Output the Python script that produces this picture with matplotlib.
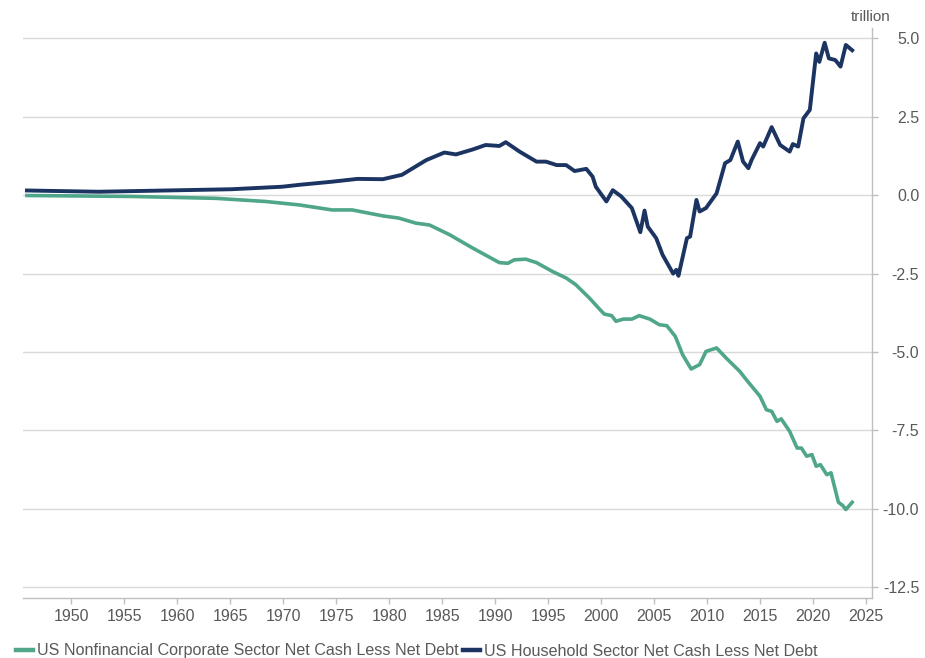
import numpy as np
import matplotlib
matplotlib.use("Agg")
import matplotlib.pyplot as plt

# values (trillion USD)
hh_years = [1945.8, 1952.6, 1958.9, 1965.1, 1969.9, 1971.5, 1974.6, 1977.0, 1979.4,
            1981.2, 1983.5, 1985.2, 1986.3, 1987.9, 1989.1, 1990.4, 1991.0, 1992.3,
            1993.9, 1994.8, 1995.8, 1996.7, 1997.5, 1998.6, 1999.2, 1999.5, 2000.5,
            2001.1, 2001.9, 2002.9, 2003.7, 2004.1, 2004.4, 2005.2, 2005.8, 2006.8,
            2007.1, 2007.3, 2008.1, 2008.4, 2009.0, 2009.3, 2009.9, 2010.9, 2011.7,
            2012.2, 2012.9, 2013.4, 2013.9, 2014.2, 2015.0, 2015.3, 2016.1, 2016.9,
            2017.8, 2018.1, 2018.6, 2019.1, 2019.7, 2020.3, 2020.6, 2021.1, 2021.5,
            2022.1, 2022.6, 2023.1, 2023.7]
hh_values = [0.15, 0.11, 0.15, 0.19, 0.27, 0.33, 0.43, 0.52, 0.51,
             0.65, 1.12, 1.36, 1.30, 1.46, 1.60, 1.57, 1.69, 1.39,
             1.07, 1.07, 0.96, 0.96, 0.77, 0.84, 0.59, 0.27, -0.20,
             0.16, -0.04, -0.41, -1.18, -0.49, -1.00, -1.37, -1.90, -2.50,
             -2.38, -2.57, -1.37, -1.32, -0.15, -0.52, -0.41, 0.06, 1.02,
             1.12, 1.71, 1.07, 0.86, 1.12, 1.66, 1.55, 2.17, 1.60,
             1.39, 1.63, 1.55, 2.45, 2.72, 4.52, 4.25, 4.86, 4.36,
             4.31, 4.10, 4.79, 4.62]

corp_years = [1945.8, 1955.7, 1963.6, 1968.3, 1971.5, 1974.6, 1976.5, 1979.4, 1980.9,
              1982.5, 1983.8, 1985.7, 1987.9, 1990.4, 1991.2, 1991.8, 1992.9, 1993.9,
              1995.4, 1996.7, 1997.6, 1998.9, 1999.9, 2000.3, 2001.0, 2001.4, 2002.1,
              2002.9, 2003.6, 2004.6, 2005.5, 2006.2, 2007.0, 2007.7, 2008.5, 2009.3,
              2009.9, 2010.9, 2011.8, 2013.1, 2013.7, 2015.0, 2015.6, 2016.1, 2016.6,
              2017.0, 2017.8, 2018.5, 2018.9, 2019.4, 2019.9, 2020.3, 2020.7, 2021.3,
              2021.7, 2022.4, 2022.8, 2023.1, 2023.7]
corp_values = [-0.01, -0.04, -0.10, -0.20, -0.31, -0.47, -0.47, -0.66, -0.73,
               -0.89, -0.95, -1.26, -1.69, -2.15, -2.17, -2.06, -2.04, -2.15,
               -2.43, -2.64, -2.85, -3.28, -3.65, -3.79, -3.84, -4.02, -3.95,
               -3.95, -3.84, -3.95, -4.13, -4.16, -4.50, -5.09, -5.54, -5.40,
               -4.98, -4.87, -5.19, -5.62, -5.88, -6.41, -6.84, -6.89, -7.21,
               -7.13, -7.53, -8.06, -8.06, -8.32, -8.27, -8.64, -8.59, -8.91,
               -8.85, -9.79, -9.89, -10.02, -9.79]

x_ticks = list(range(1950, 2030, 5))
y_ticks = [5.0, 2.5, 0.0, -2.5, -5.0, -7.5, -10.0, -12.5]

corp_label = "US Nonfinancial Corporate Sector Net Cash Less Net Debt"
hh_label = "US Household Sector Net Cash Less Net Debt"

plt.rcParams["font.family"] = ["Liberation Sans", "DejaVu Sans"]
plt.rcParams["axes.unicode_minus"] = False

text_col = "#595959"
axis_col = "#bfbfbf"

fig = plt.figure(figsize=(9.25, 6.58), dpi=100)
ax = fig.add_axes([23 / 925, 1 - 597.5 / 658, (872 - 23) / 925, (597.5 - 28) / 658])

ax.plot(corp_years, corp_values, color="#4fa68a", lw=2.6, label=corp_label,
        solid_joinstyle="round")
ax.plot(hh_years, hh_values, color="#1b3461", lw=2.8, label=hh_label,
        solid_joinstyle="round")

ax.set_xlim(1945.43, 2025.57)
ax.set_ylim(-12.825, 5.33)

ax.set_xticks(x_ticks)
ax.set_yticks(y_ticks)
ax.set_yticklabels(["%.1f" % v for v in y_ticks], ha="right")
ax.yaxis.tick_right()
ax.grid(axis="y", color="#d9d9d9", lw=1.0)
ax.set_axisbelow(True)

for s in ["top", "left"]:
    ax.spines[s].set_visible(False)
for s in ["right", "bottom"]:
    ax.spines[s].set_color(axis_col)
    ax.spines[s].set_linewidth(1.0)

ax.tick_params(axis="x", colors=axis_col, labelcolor=text_col, labelsize=11.5,
               length=4, width=1, pad=4)
ax.tick_params(axis="y", colors=axis_col, labelcolor=text_col, labelsize=11.5,
               length=4, width=1, pad=30)

fig.text(871 / 925, 1 - 17 / 658, "trillion", ha="center", va="center",
         fontsize=11, color=text_col)

leg = fig.legend(loc="center left", bbox_to_anchor=(16 / 925, 1 - 651 / 658), ncol=2,
                 frameon=False, fontsize=11.6, handlelength=1.05, handletextpad=0.25,
                 columnspacing=0.3, borderaxespad=0, borderpad=0)
for t in leg.get_texts():
    t.set_color(text_col)
for h in leg.get_lines():
    h.set_linewidth(3.2)

fig.savefig("out.png", dpi=100)
